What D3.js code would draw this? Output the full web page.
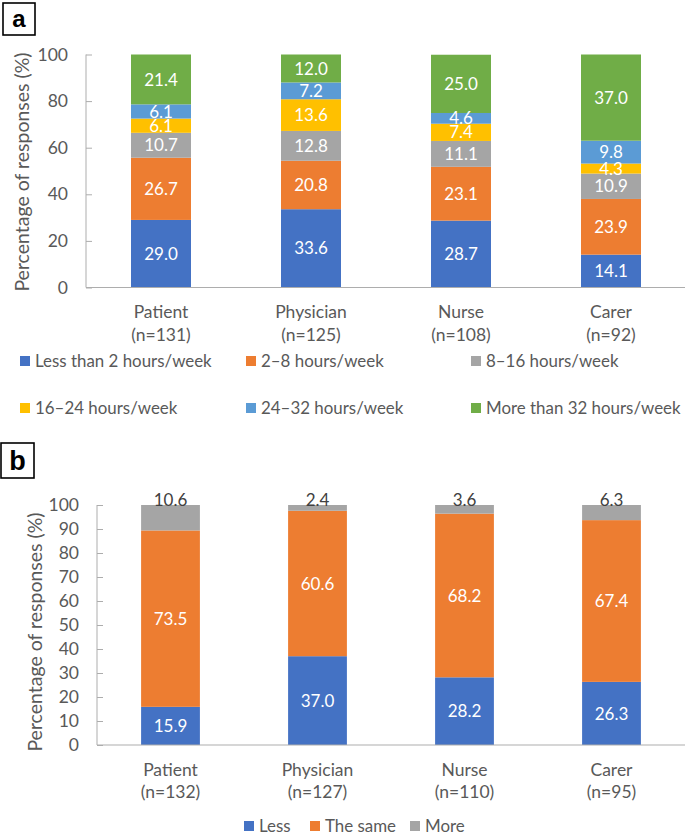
<!DOCTYPE html>
<html>
<head>
<meta charset="utf-8">
<script src="https://cdn.jsdelivr.net/npm/d3@7"></script>
<style>
  body { margin: 0; background: #fff; }
  svg { display: block; font-family: Lato, "Open Sans", sans-serif; }
</style>
</head>
<body>
<svg id="chart" width="685" height="835"></svg>
<script>
// ---------- Data ----------
const categoriesA = ["Patient", "Physician", "Nurse", "Carer"];
const nA = ["(n=131)", "(n=125)", "(n=108)", "(n=92)"];
const seriesA = ["Less than 2 hours/week", "2\u20138 hours/week", "8\u201316 hours/week",
                 "16\u201324 hours/week", "24\u201332 hours/week", "More than 32 hours/week"];
const lessThan2 = [29.0, 33.6, 28.7, 14.1];
const h2to8 = [26.7, 20.8, 23.1, 23.9];
const h8to16 = [10.7, 12.8, 11.1, 10.9];
const h16to24 = [6.1, 13.6, 7.4, 4.3];
const h24to32 = [6.1, 7.2, 4.6, 9.8];
const moreThan32 = [21.4, 12.0, 25.0, 37.0];
const ticksA = [0, 20, 40, 60, 80, 100];

const categoriesB = ["Patient", "Physician", "Nurse", "Carer"];
const nB = ["(n=132)", "(n=127)", "(n=110)", "(n=95)"];
const seriesB = ["Less", "The same", "More"];
const less = [15.9, 37.0, 28.2, 26.3];
const same = [73.5, 60.6, 68.2, 67.4];
const more = [10.6, 2.4, 3.6, 6.3];
const ticksB = [0, 10, 20, 30, 40, 50, 60, 70, 80, 90, 100];

const colorsA = ["#4472C4", "#ED7D31", "#A5A5A5", "#FFC000", "#5B9BD5", "#70AD47"];
const colorsB = ["#4472C4", "#ED7D31", "#A5A5A5"];

const svg = d3.select("#chart");
const textCol = "#595959";
const axisCol = "#ADADAD";
const FS = 17.5;
const LFS = 16.9;

function panel(cfg) {
  const g = svg.append("g");
  const x = d3.scaleBand().domain(cfg.categories).range([cfg.left, cfg.right]).paddingInner(0.6).paddingOuter(0.3);
  const y = d3.scaleLinear().domain([0, 100]).range([cfg.bottom, cfg.top]);

  const rows = cfg.categories.map((c, i) => {
    const r = { cat: c, idx: i };
    cfg.keys.forEach((k, j) => r[k] = cfg.values[j][i]);
    return r;
  });
  const stacked = d3.stack().keys(cfg.keys)(rows);

  // bars
  stacked.forEach((layer, li) => {
    const lg = g.append("g").attr("fill", cfg.colors[li]);
    lg.selectAll("rect").data(layer).join("rect")
      .attr("x", d => x(d.data.cat))
      .attr("width", x.bandwidth())
      .attr("y", d => y(d[1]))
      .attr("height", d => y(d[0]) - y(d[1]));
  });

  // labels
  stacked.forEach((layer, li) => {
    const top = cfg.topLabel && li === stacked.length - 1;
    g.append("g").selectAll("text").data(layer).join("text")
      .attr("x", d => x(d.data.cat) + x.bandwidth() / 2)
      .attr("y", d => top ? y(100) + 1 : y((d[0] + d[1]) / 2))
      .attr("dy", top ? 0 : "0.36em")
      .attr("text-anchor", "middle")
      .attr("font-size", 17)
      .attr("fill", top ? "#404040" : "#fff")
      .text(d => cfg.values[li][d.data.idx].toFixed(1));
  });

  // y axis
  const ya = g.append("g").attr("transform", `translate(${cfg.left},0)`)
    .call(d3.axisLeft(y).tickValues(cfg.ticks).tickSize(-6).tickPadding(18).tickFormat(d3.format("d")));
  ya.select(".domain").attr("stroke", axisCol).attr("d", `M-0,${cfg.bottom}V${cfg.top}`);
  ya.selectAll(".tick line").attr("stroke", axisCol);
  ya.selectAll(".tick text").attr("fill", textCol).attr("font-size", FS).attr("font-family", "Lato");

  // x axis
  const xa = g.append("g").attr("transform", `translate(0,${cfg.bottom})`)
    .call(d3.axisBottom(x).tickSize(0).tickFormat(""));
  xa.select(".domain").attr("stroke", axisCol).attr("d", `M${cfg.left},0H${cfg.right}`);
  const cl = g.append("g");
  cfg.categories.forEach((c, i) => {
    const t = cl.append("text")
      .attr("x", x(c) + x.bandwidth() / 2)
      .attr("y", cfg.bottom + cfg.catDy)
      .attr("text-anchor", "middle").attr("font-size", FS).attr("fill", textCol);
    t.append("tspan").attr("x", x(c) + x.bandwidth() / 2).attr("dy", 0).text(c);
    t.append("tspan").attr("x", x(c) + x.bandwidth() / 2).attr("dy", cfg.lineH).text(cfg.ns[i]);
  });

  // y title
  g.append("text")
    .attr("transform", `translate(${cfg.titleX},${cfg.titleY}) rotate(-90)`)
    .attr("text-anchor", "middle").attr("dy", "0.35em")
    .attr("font-size", 19.5).attr("fill", textCol)
    .text("Percentage of responses (%)");

  // legend
  cfg.legend.forEach((p, i) => {
    g.append("rect").attr("x", p[0]).attr("y", p[1] - 5).attr("width", 10).attr("height", 10).attr("fill", cfg.colors[i]);
    g.append("text").attr("x", p[0] + 15).attr("y", p[1]).attr("dy", "0.35em")
      .attr("font-size", LFS).attr("fill", textCol).text(cfg.series[i]);
  });

  // panel letter
  g.append("rect").attr("x", cfg.box[0]).attr("y", cfg.box[1]).attr("width", cfg.box[2]).attr("height", cfg.box[3])
    .attr("fill", "none").attr("stroke", "#000").attr("stroke-width", 1.6);
  g.append("text").attr("x", cfg.box[0] + cfg.box[2] / 2).attr("y", cfg.box[1] + cfg.box[3] / 2)
    .attr("dy", "0.35em").attr("text-anchor", "middle")
    .attr("font-family", "Liberation Sans, Arial, sans-serif").attr("font-weight", "bold")
    .attr("font-size", cfg.boxFont).attr("fill", "#000").text(cfg.letter);
}

panel({
  categories: categoriesA, ns: nA, series: seriesA,
  keys: ["s0", "s1", "s2", "s3", "s4", "s5"],
  values: [lessThan2, h2to8, h8to16, h16to24, h24to32, moreThan32],
  colors: colorsA, ticks: ticksA,
  left: 86, right: 686, top: 54.5, bottom: 287.5,
  catDy: 30, lineH: 23,
  titleX: 22, titleY: 172,
  legend: [[20, 361], [246, 361], [471, 361], [20, 408], [246, 408], [471, 408]],
  box: [3, 3, 32, 32], boxFont: 24, letter: "a", topLabel: false
});

panel({
  categories: categoriesB, ns: nB, series: seriesB,
  keys: ["s0", "s1", "s2"],
  values: [less, same, more],
  colors: colorsB, ticks: ticksB,
  left: 97, right: 685, top: 505, bottom: 745,
  catDy: 31, lineH: 22,
  titleX: 35, titleY: 632,
  legend: [[244, 826], [310, 826], [410, 826]],
  box: [1, 443, 33, 35], boxFont: 27, letter: "b", topLabel: true
});
</script>
</body>
</html>
